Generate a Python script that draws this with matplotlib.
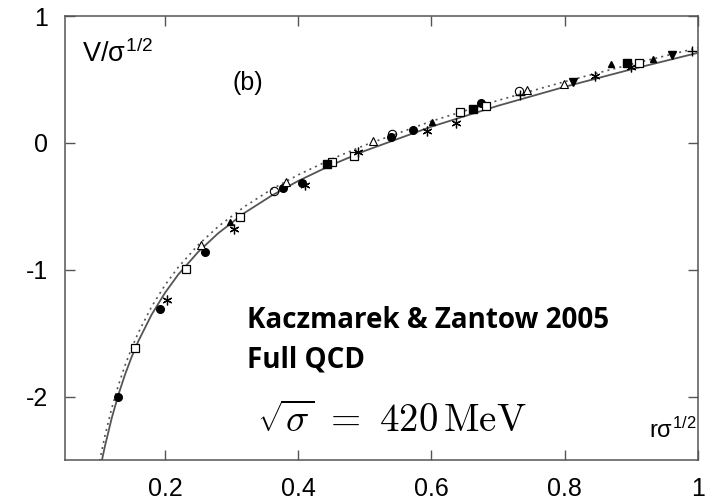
import matplotlib
matplotlib.use("Agg")
import matplotlib.pyplot as plt

plt.rcParams['font.family'] = ['Liberation Sans', 'DejaVu Sans']
plt.rcParams['mathtext.fontset'] = 'custom'
plt.rcParams['mathtext.rm'] = 'Liberation Sans'
plt.rcParams['mathtext.it'] = 'Liberation Sans'
plt.rcParams['mathtext.sf'] = 'Liberation Sans'

# fitted curves, values
solid_x = [0.1055, 0.11, 0.12, 0.13, 0.14, 0.15, 0.16, 0.18, 0.2, 0.22, 0.25, 0.28,
           0.32, 0.36, 0.4, 0.45, 0.5, 0.6, 0.7, 0.8, 0.9, 1.0]
solid_y = [-2.500, -2.390, -2.173, -1.988, -1.828, -1.688, -1.564, -1.354, -1.183,
           -1.038, -0.859, -0.712, -0.550, -0.416, -0.300, -0.174, -0.063, 0.128,
           0.293, 0.442, 0.580, 0.710]
dotted_x = [0.102, 0.11, 0.12, 0.13, 0.14, 0.15, 0.16, 0.18, 0.2, 0.22, 0.25, 0.28,
            0.32, 0.36, 0.4, 0.45, 0.5, 0.6, 0.7, 0.8, 0.9, 1.0]
dotted_y = [-2.508, -2.308, -2.095, -1.914, -1.756, -1.619, -1.497, -1.291, -1.122,
            -0.980, -0.804, -0.659, -0.500, -0.366, -0.252, -0.128, -0.018, 0.171,
            0.335, 0.483, 0.620, 0.750]

# lattice data points
fcirc_x = [0.129, 0.1925, 0.2604, 0.377, 0.405, 0.5396, 0.573, 0.6745]
fcirc_y = [-2.005, -1.31, -0.861, -0.357, -0.317, 0.05, 0.102, 0.317]
osq_x = [0.155, 0.231, 0.312, 0.451, 0.483, 0.6435, 0.682, 0.9116]
osq_y = [-1.617, -0.992, -0.585, -0.147, -0.102, 0.246, 0.291, 0.632]
fsq_x = [0.443, 0.663, 0.894]
fsq_y = [-0.168, 0.268, 0.628]
ast_x = [0.2025, 0.304, 0.41, 0.4896, 0.593, 0.637, 0.846, 0.899]
ast_y = [-1.236, -0.68, -0.331, -0.068, 0.097, 0.16, 0.528, 0.596]
ftri_x = [0.298, 0.601, 0.869, 0.933]
ftri_y = [-0.627, 0.168, 0.62, 0.659]
otri_x = [0.254, 0.381, 0.512, 0.743, 0.799]
otri_y = [-0.803, -0.312, 0.016, 0.417, 0.465]
ocirc_x = [0.363, 0.541, 0.732]
ocirc_y = [-0.378, 0.068, 0.412]
plus_x = [0.733, 0.9915]
plus_y = [0.378, 0.727]
dtri_x = [0.812, 0.9615]
dtri_y = [0.483, 0.693]

xticks = [0.2, 0.4, 0.6, 0.8, 1]
xticklabels = ['0.2', '0.4', '0.6', '0.8', '1']
yticks = [-2, -1, 0, 1]
yticklabels = ['-2', '-1', '0', '1']

fig = plt.figure(figsize=(7.14, 5.01), dpi=100)
ax = fig.add_axes([0.091, 0.0818, 0.8866, 0.8862])

ax.plot(dotted_x, dotted_y, color='#555555', lw=1.2, ls=(0, (1.2, 2.5)))
ax.plot(solid_x, solid_y, color='#555555', lw=1.3)

k = dict(ls='none', color='black')
ax.plot(fcirc_x, fcirc_y, marker='o', ms=5.5, **k)
ax.plot(osq_x, osq_y, marker='s', ms=6, mfc='white', mew=0.9, **k)
ax.plot(fsq_x, fsq_y, marker='s', ms=6, **k)
ax.plot(ast_x, ast_y, marker=(6, 2, 0), ms=7, mew=0.9, **k)
ax.plot(ftri_x, ftri_y, marker='^', ms=5, **k)
ax.plot(otri_x, otri_y, marker='^', ms=5.5, mfc='white', mew=0.8, **k)
ax.plot(ocirc_x, ocirc_y, marker='o', ms=6, mfc='none', mew=0.8, **k)
ax.plot(plus_x, plus_y, marker='+', ms=7, mew=1.0, **k)
ax.plot(dtri_x, dtri_y, marker='v', ms=5.5, **k)

ax.set_xlim(0.05, 1.0)
ax.set_ylim(-2.5, 1.0)
ax.set_xticks(xticks)
ax.set_xticklabels(xticklabels)
ax.set_yticks(yticks)
ax.set_yticklabels(yticklabels)
ax.tick_params(direction='in', length=7, width=1, color='#555555', top=True, right=True,
               labelsize=18, pad=12)
for s in ax.spines.values():
    s.set_color('#555555')
    s.set_linewidth(1.1)

ax.text(0.0757, 0.638, r'$V/\sigma^{1/2}$', fontsize=19.5, ha='left', va='baseline')
ax.text(0.324, 0.472, '(b)', fontsize=18, ha='center', va='center')
ax.text(0.9975, -2.323, r'$r\sigma^{1/2}$', fontsize=17, ha='right', va='baseline')

ax.text(0.323, -1.461, 'Kaczmarek & Zantow 2005', fontsize=20, fontweight='bold',
        family=['Open Sans', 'DejaVu Sans'], ha='left', va='baseline')
ax.text(0.323, -1.768, 'Full QCD', fontsize=20, fontweight='bold',
        family=['Open Sans', 'DejaVu Sans'], ha='left', va='baseline')
ax.text(0.338, -2.276, r'$\sqrt{\sigma}\ =\ 420\,\mathrm{MeV}$', fontsize=28,
        math_fontfamily='cm', ha='left', va='baseline')

fig.savefig('out.png', dpi=100)
